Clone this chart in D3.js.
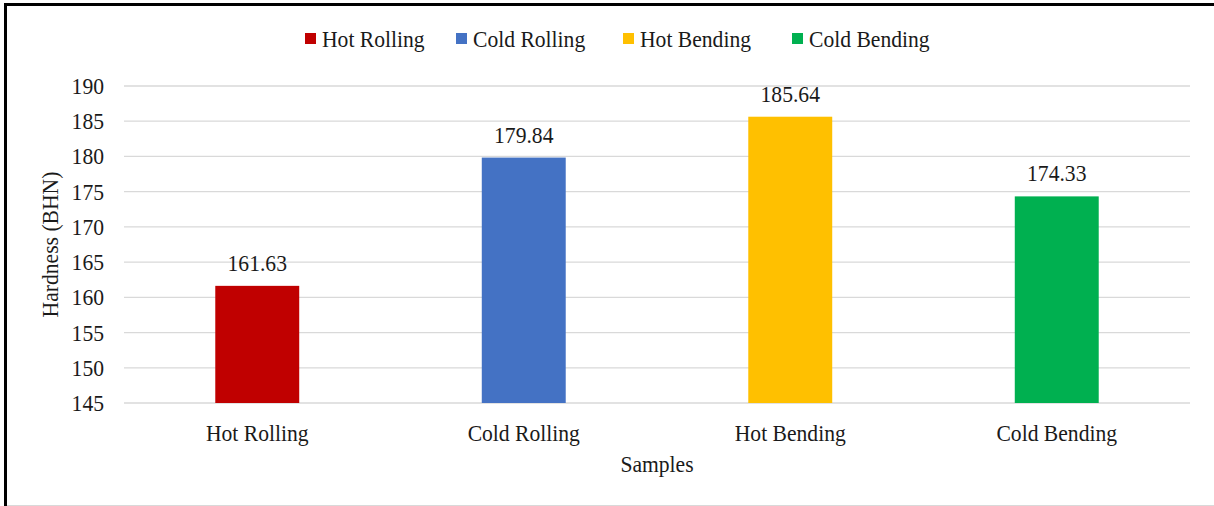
<!DOCTYPE html>
<html>
<head>
<meta charset="utf-8">
<script src="https://cdn.jsdelivr.net/npm/d3@7"></script>
<style>
  html, body { margin: 0; padding: 0; background: #fff; }
  svg { display: block; }
</style>
</head>
<body>
<svg id="chart" width="1214" height="506"></svg>
<script>
// Hardness of each sample (BHN)
const categories = ["Hot Rolling", "Cold Rolling", "Hot Bending", "Cold Bending"];
const hardness = [161.63, 179.84, 185.64, 174.33];
const colors = ["#C00000", "#4472C4", "#FFC000", "#00B050"];
const yTicks = [145, 150, 155, 160, 165, 170, 175, 180, 185, 190];

const W = 1214, H = 506;
const FONT = '"Liberation Serif"';
const FS = 24, SX = 0.9;   // type size and horizontal squeeze of the lettering
const svg = d3.select("#chart");

// Text helper: narrow serif lettering anchored at (x, y)
function label(parent, x, y, str, anchor, rot) {
  return parent.append("text")
    .attr("transform", `translate(${x},${y})` + (rot ? ` rotate(${rot})` : "") + ` scale(${SX},1)`)
    .attr("text-anchor", anchor || "middle")
    .style("font-family", FONT)
    .style("font-size", FS + "px")
    .style("fill", "#1a1a1a")
    .text(str);
}

// Frame around the chart area
svg.append("line").attr("x1", 4).attr("x2", W).attr("y1", 4.5).attr("y2", 4.5)
  .attr("stroke", "#000").attr("stroke-width", 3);
svg.append("line").attr("x1", 5.5).attr("x2", 5.5).attr("y1", 3).attr("y2", H)
  .attr("stroke", "#000").attr("stroke-width", 3);
svg.append("line").attr("x1", 7).attr("x2", W).attr("y1", 505.5).attr("y2", 505.5)
  .attr("stroke", "#d9d9d9").attr("stroke-width", 1);

const plot = { left: 124, right: 1190, top: 86, bottom: 403 };

const x = d3.scaleBand().domain(categories).range([plot.left, plot.right])
  .paddingInner(0.685).paddingOuter(0.3425);
const y = d3.scaleLinear().domain([145, 190]).range([plot.bottom, plot.top]);

// Horizontal gridlines
svg.append("g").selectAll("line").data(yTicks).join("line")
  .attr("x1", plot.left).attr("x2", plot.right)
  .attr("y1", d => y(d)).attr("y2", d => y(d))
  .attr("stroke", "#d9d9d9").attr("stroke-width", 1.3);

// Y axis tick labels
const gy = svg.append("g");
yTicks.forEach(v => label(gy, plot.left - 20, y(v) + 8, String(v), "end"));

// X axis category labels
const gx = svg.append("g");
categories.forEach(c => label(gx, x(c) + x.bandwidth() / 2, 441, c, "middle"));

// Bars
svg.append("g").selectAll("rect").data(categories).join("rect")
  .attr("x", d => x(d))
  .attr("width", x.bandwidth())
  .attr("y", (d, i) => y(hardness[i]))
  .attr("height", (d, i) => y(145) - y(hardness[i]))
  .attr("fill", (d, i) => colors[i]);

// Value labels above the bars
const gv = svg.append("g");
categories.forEach((c, i) =>
  label(gv, x(c) + x.bandwidth() / 2, y(hardness[i]) - 15, hardness[i].toFixed(2), "middle"));

// Axis titles
label(svg, (plot.left + plot.right) / 2, 472, "Samples", "middle");
label(svg, 58, (plot.top + plot.bottom) / 2, "Hardness (BHN)", "middle", -90);

// Legend
const legendX = [305, 456, 623, 792];
const lg = svg.append("g");
categories.forEach((c, i) => {
  lg.append("rect").attr("x", legendX[i]).attr("y", 33).attr("width", 11).attr("height", 11)
    .attr("fill", colors[i]);
  label(lg, legendX[i] + 17, 47, c, "start");
});
</script>
</body>
</html>
